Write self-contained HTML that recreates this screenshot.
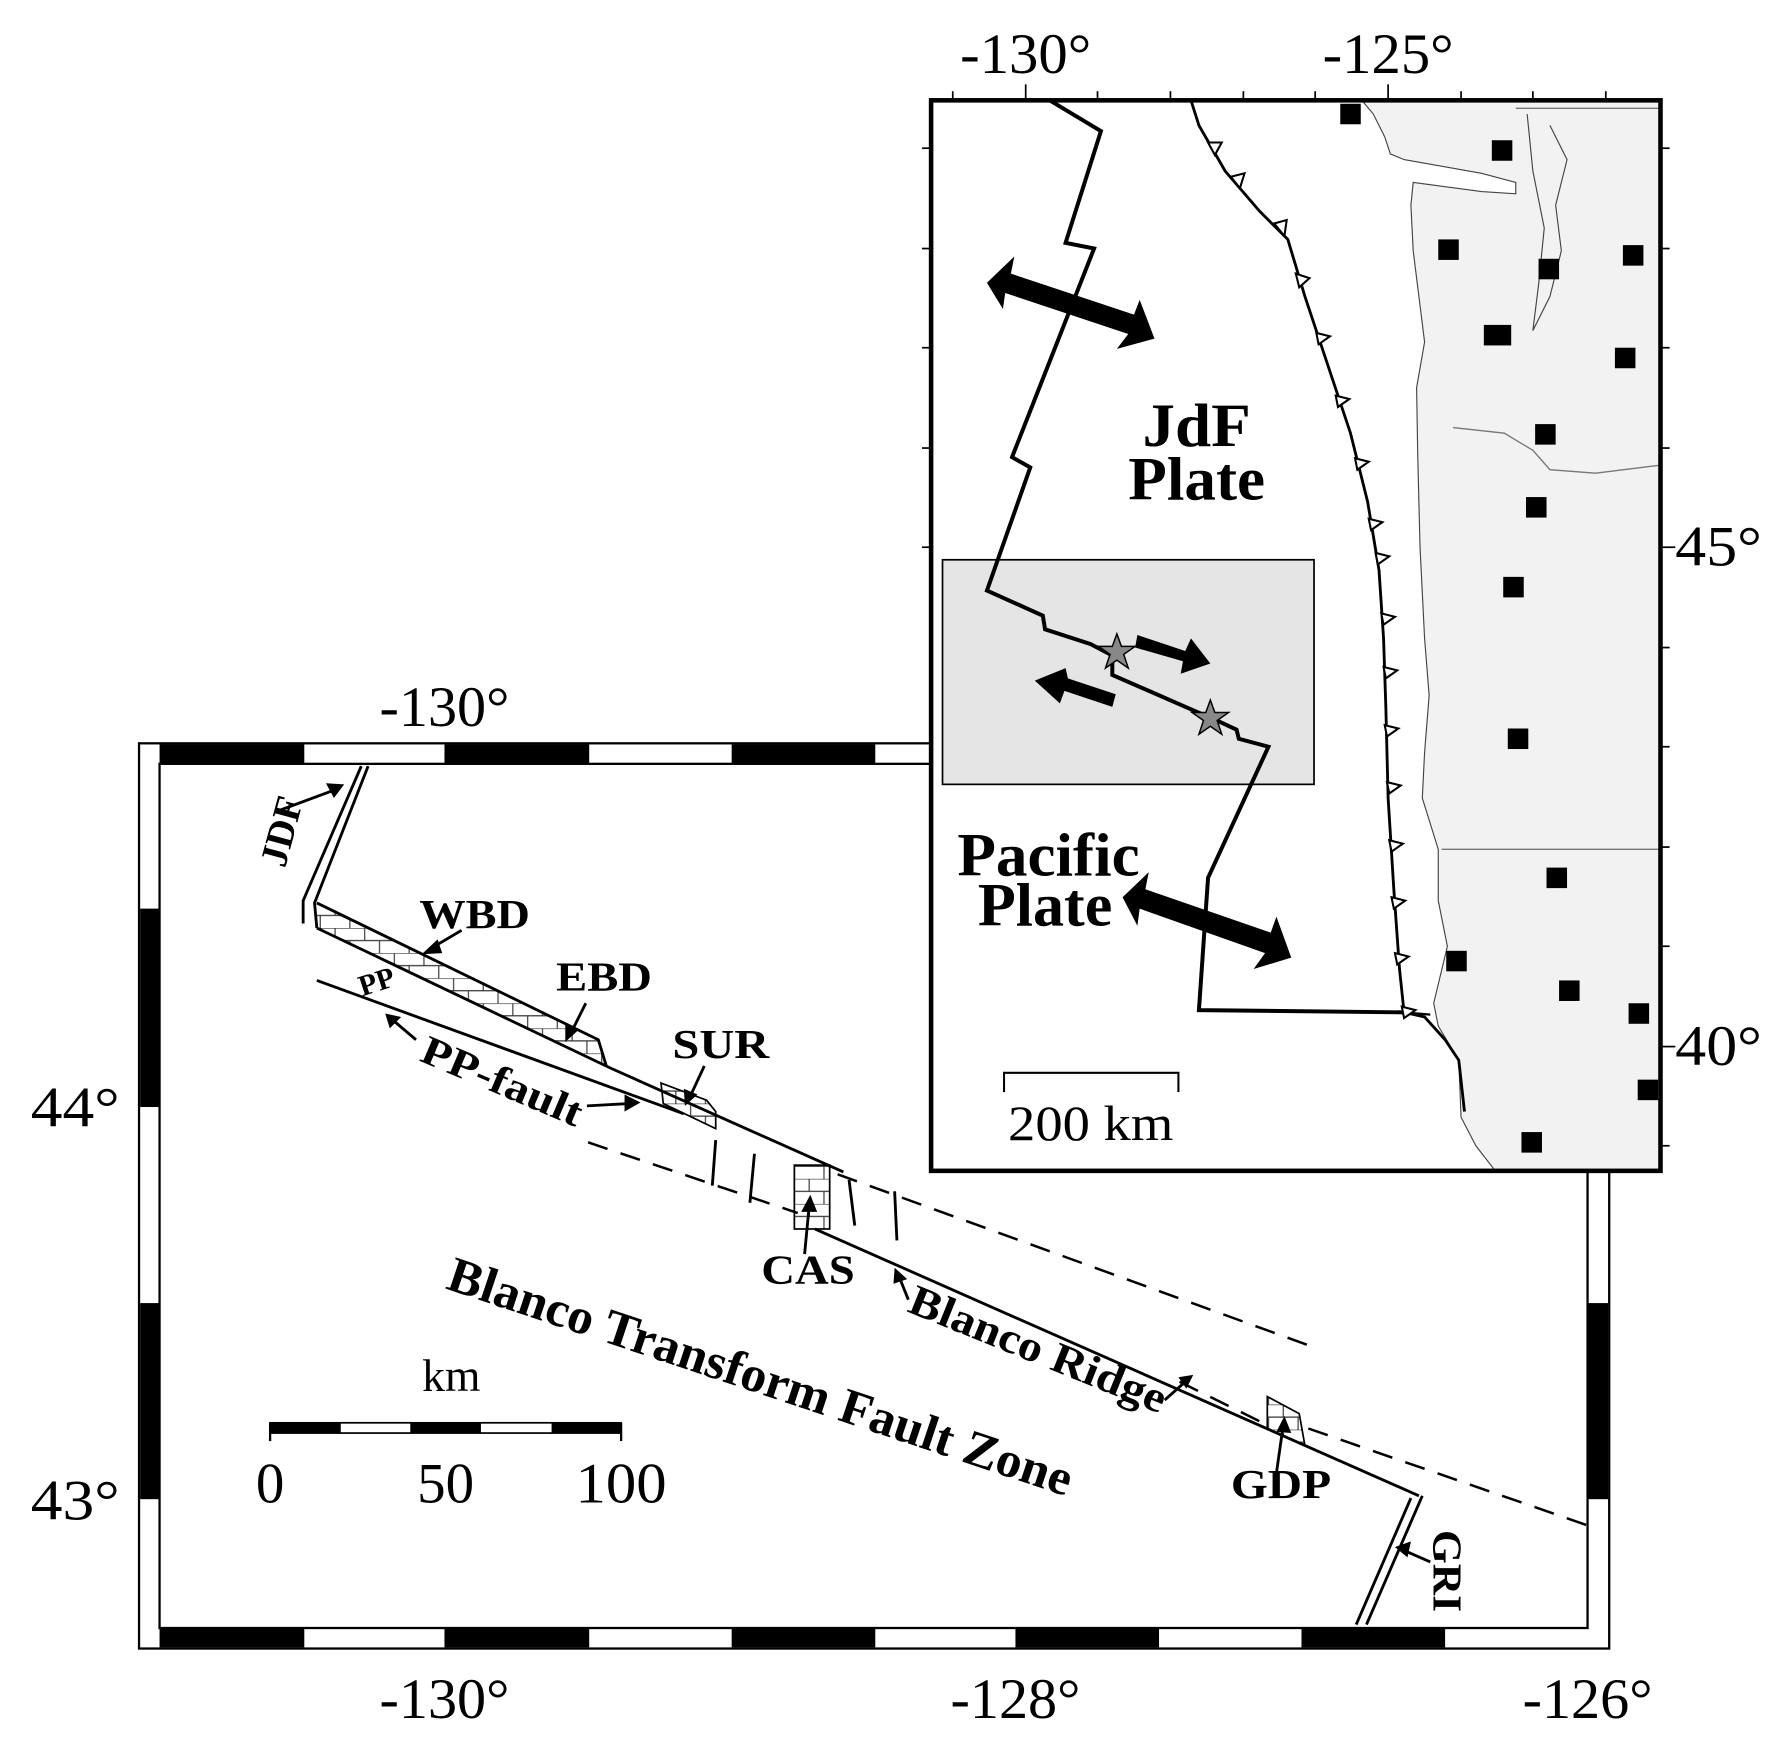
<!DOCTYPE html>
<html><head><meta charset="utf-8"><style>
html,body{margin:0;padding:0;background:#fff;}
svg{display:block;}
text{font-family:"Liberation Serif",serif;}
</style></head><body>
<svg width="1787" height="1750" viewBox="0 0 1568 1535" preserveAspectRatio="none" xmlns="http://www.w3.org/2000/svg">
<defs>
<pattern id="brick" width="26" height="22" patternUnits="userSpaceOnUse">
<rect width="26" height="22" fill="#fff"/>
<path d="M0 0H26M0 11H26M8 0V11M21 11V22" stroke="#333" stroke-width="1" fill="none"/>
</pattern>
</defs>

<rect x="122" y="652" width="1290" height="794" fill="#fff" stroke="#000" stroke-width="2"/>
<rect x="140" y="670" width="1253" height="758" fill="#fff" stroke="#000" stroke-width="2"/>
<g fill="#000">
<rect x="140" y="653" width="127" height="17"/><rect x="390" y="653" width="127" height="17"/><rect x="642" y="653" width="126" height="17"/><rect x="891" y="653" width="126" height="17"/><rect x="1142" y="653" width="126" height="17"/>
<rect x="140" y="1428" width="127" height="17"/><rect x="390" y="1428" width="127" height="17"/><rect x="642" y="1428" width="126" height="17"/><rect x="891" y="1428" width="126" height="17"/><rect x="1142" y="1428" width="126" height="17"/>
<rect x="123" y="797" width="17" height="174"/><rect x="123" y="1143" width="17" height="172"/>
<rect x="1393" y="797" width="18" height="174"/><rect x="1393" y="1143" width="18" height="172"/>
</g>
<g font-size="50" text-anchor="middle">
<text x="390" y="637" textLength="114" lengthAdjust="spacingAndGlyphs">-130°</text>
<text x="390" y="1507" textLength="114" lengthAdjust="spacingAndGlyphs">-130°</text>
<text x="891" y="1507" textLength="114" lengthAdjust="spacingAndGlyphs">-128°</text>
<text x="1393" y="1507" textLength="114" lengthAdjust="spacingAndGlyphs">-126°</text>
<text x="66" y="988" textLength="78" lengthAdjust="spacingAndGlyphs">44°</text>
<text x="66" y="1333" textLength="78" lengthAdjust="spacingAndGlyphs">43°</text>
</g>

<polygon points="278,792 525,912 532,935 536,937 278,814" fill="url(#brick)"/>
<polygon points="580,950 620,965 628,975 628,990 582,968" fill="url(#brick)" stroke="#000" stroke-width="1.5"/>
<rect x="697" y="1022" width="31" height="56" fill="url(#brick)" stroke="#000" stroke-width="1.5"/>
<polygon points="1112,1225 1140,1240 1145,1268 1112,1253" fill="url(#brick)" stroke="#000" stroke-width="1.5"/>
<g stroke="#000" fill="none" stroke-width="2.5">
<polyline points="317,672 266,790 266,810"/>
<polyline points="323,672 276,792 278,814"/>
<polyline points="278,792 525,912 532,935"/>
<polyline points="278,814 536,937 740,1028"/>
<line x1="278" y1="860" x2="600" y2="977"/>
<line x1="715" y1="1078" x2="1245" y2="1312"/>
<line x1="1238" y1="1314" x2="1190" y2="1425"/>
<line x1="1248" y1="1312" x2="1199" y2="1425"/>
<line x1="628" y1="1000" x2="625" y2="1040"/>
<line x1="662" y1="1012" x2="658" y2="1055"/>
<line x1="745" y1="1035" x2="750" y2="1075"/>
<line x1="785" y1="1045" x2="787" y2="1088"/>
</g>
<g stroke="#000" fill="none" stroke-width="2.2" stroke-dasharray="18,12">
<line x1="516" y1="1002" x2="700" y2="1064"/>
<line x1="735" y1="1030" x2="1148" y2="1180"/>
<line x1="1035" y1="1212" x2="1112" y2="1250"/>
<line x1="1148" y1="1253" x2="1393" y2="1338"/>
</g>
<g stroke="#000" stroke-width="2.5" fill="none">
<line x1="242" y1="712" x2="296" y2="692"/>
<line x1="405" y1="816" x2="378" y2="832"/>
<line x1="514" y1="880" x2="500" y2="908"/>
<line x1="365" y1="912" x2="345" y2="895"/>
<line x1="515" y1="970" x2="552" y2="968"/>
<line x1="618" y1="935" x2="605" y2="963"/>
<line x1="706" y1="1100" x2="710" y2="1058"/>
<line x1="797" y1="1140" x2="789" y2="1120"/>
<line x1="1022" y1="1228" x2="1040" y2="1212"/>
<line x1="1120" y1="1292" x2="1126" y2="1250"/>
<line x1="1255" y1="1370" x2="1232" y2="1360"/>
</g>
<g fill="#000">
<polygon points="302,688 286,687 293,700"/>
<polygon points="370,837 384,824 388,836"/>
<polygon points="496,914 496,898 508,903"/>
<polygon points="338,889 352,892 342,902"/>
<polygon points="562,967 548,960 548,975"/>
<polygon points="601,970 600,955 612,960"/>
<polygon points="711,1048 703,1063 717,1063"/>
<polygon points="785,1112 784,1126 796,1122"/>
<polygon points="1047,1206 1034,1208 1041,1218"/>
<polygon points="1127,1242 1120,1256 1133,1257"/>
<polygon points="1224,1357 1238,1352 1235,1366"/>
</g>
<g font-weight="bold" fill="#000">
<text x="0" y="0" font-size="34" textLength="62" lengthAdjust="spacingAndGlyphs" transform="translate(250,762) rotate(-75)">JDF</text>
<text x="368" y="814" font-size="36" textLength="97" lengthAdjust="spacingAndGlyphs">WBD</text>
<text x="488" y="869" font-size="36" textLength="84" lengthAdjust="spacingAndGlyphs">EBD</text>
<text x="0" y="0" font-size="26" transform="translate(318,874) rotate(-18)">PP</text>
<text x="0" y="0" font-size="36" textLength="150" lengthAdjust="spacingAndGlyphs" transform="translate(367,930) rotate(23)">PP-fault</text>
<text x="590" y="928" font-size="36" textLength="85" lengthAdjust="spacingAndGlyphs">SUR</text>
<text x="668" y="1126" font-size="36" textLength="82" lengthAdjust="spacingAndGlyphs">CAS</text>
<text x="0" y="0" font-size="38" textLength="240" lengthAdjust="spacingAndGlyphs" transform="translate(795,1150) rotate(22)">Blanco Ridge</text>
<text x="0" y="0" font-size="44" textLength="575" lengthAdjust="spacingAndGlyphs" transform="translate(390,1130) rotate(18.5)">Blanco Transform Fault Zone</text>
<text x="1080" y="1314" font-size="36" textLength="88" lengthAdjust="spacingAndGlyphs">GDP</text>
<text x="0" y="0" font-size="36" textLength="72" lengthAdjust="spacingAndGlyphs" transform="translate(1258,1342) rotate(90)">GRI</text>
</g>
<text x="396" y="1220" font-size="40" text-anchor="middle">km</text>
<rect x="237" y="1248" width="308" height="9" fill="#fff" stroke="#000" stroke-width="1.5"/>
<g fill="#000"><rect x="237" y="1248" width="62" height="9"/><rect x="360" y="1248" width="62" height="9"/><rect x="484" y="1248" width="61" height="9"/></g>
<line x1="237" y1="1248" x2="237" y2="1264" stroke="#000" stroke-width="2"/>
<line x1="545" y1="1248" x2="545" y2="1264" stroke="#000" stroke-width="2"/>
<g font-size="50" text-anchor="middle"><text x="237" y="1318">0</text><text x="391" y="1318">50</text><text x="545" y="1318" textLength="80" lengthAdjust="spacingAndGlyphs">100</text></g>

<rect x="817" y="88" width="640" height="939" fill="#fff"/>
<path d="M1195,88 L1205,100 L1215,120 L1220,135 L1232,140 L1300,152 L1330,160 L1330,170 L1300,168 L1240,160 L1238,180 L1240,220 L1245,260 L1250,300 L1243,340 L1244,400 L1246,480 L1250,560 L1254,610 L1250,660 L1248,700 L1262,745 L1262,790 L1270,830 L1258,880 L1262,900 L1280,930 L1282,980 L1295,1005 L1312,1027 L1457,1027 L1457,88 Z" fill="#f2f2f2" stroke="#444" stroke-width="1"/>
<path d="M1340,100 L1345,150 L1355,200 L1350,250 L1345,290 L1360,260 L1370,220 L1365,180 L1375,140 L1360,110" fill="none" stroke="#444" stroke-width="1"/>
<g stroke="#777" stroke-width="1.2" fill="none">
<line x1="1330" y1="95" x2="1457" y2="95"/>
<path d="M1275,375 L1320,380 L1345,395 L1360,412 L1400,415 L1457,408"/>
<line x1="1265" y1="745" x2="1457" y2="745"/>
</g>
<rect x="827" y="491" width="326" height="197" fill="#e5e5e5" stroke="#000" stroke-width="1.5"/>
<polyline points="921,88 966,115 935,213 960,218 888,401 904,410 866,518 915,540 917,552 957,565 976,575 976,592 1040,620 1070,633 1085,640 1087,648 1113,655 1060,770 1052,886 1232,888" fill="none" stroke="#000" stroke-width="3.5" stroke-linejoin="miter"/>
<path d="M1045,88 L1052,110 L1075,150 L1105,185 L1130,210 L1145,260 L1165,320 L1185,380 L1200,440 L1210,500 L1214,560 L1216,620 L1218,700 L1223,780 L1228,850 L1232,888 L1250,892 L1268,912 L1280,930 L1285,975" fill="none" stroke="#000" stroke-width="2.5"/>
<line x1="1232" y1="888" x2="1255" y2="890" stroke="#000" stroke-width="2"/>
<g fill="#fff" stroke="#000" stroke-width="1.8">
<polygon points="1060,125 1072,125 1066,136"/>
<polygon points="1080,155 1092,152 1088,165"/>
<polygon points="1118,196 1129,193 1127,207"/>
<polygon points="1137,240 1149,244 1140,252"/>
<polygon points="1155,292 1167,295 1157,302"/>
<polygon points="1172,347 1184,350 1174,357"/>
<polygon points="1189,402 1201,405 1191,412"/>
<polygon points="1201,455 1213,458 1203,465"/>
<polygon points="1207,485 1219,488 1209,495"/>
<polygon points="1212,538 1224,541 1214,548"/>
<polygon points="1214,585 1226,588 1216,595"/>
<polygon points="1215,636 1227,639 1217,646"/>
<polygon points="1217,686 1229,689 1219,696"/>
<polygon points="1219,737 1231,740 1221,747"/>
<polygon points="1221,787 1233,790 1223,797"/>
<polygon points="1224,836 1236,839 1226,846"/>
<polygon points="1230,883 1242,886 1232,893"/>
</g>
<g fill="#000">
<polygon points="866,248 890,225 887,240 995,276 1000,263 1013,297 980,306 990,293 882,257 880,271"/>
<polygon points="985,787 1008,765 1005,780 1115,818 1120,804 1133,840 1100,850 1110,836 1000,797 998,812"/>
<polygon points="998,557 1040,571 1045,560 1062,582 1036,591 1038,580 996,568"/>
<polygon points="976,620 934,606 930,617 908,597 935,586 937,595 979,609"/>
</g>
<g fill="#888" stroke="#000" stroke-width="1.3">
<polygon points="980,556 984,567 996,567 986,574 990,586 980,579 970,586 974,574 964,567 976,567"/>
<polygon points="1062,614 1066,625 1078,625 1068,632 1072,644 1062,637 1052,644 1056,632 1046,625 1058,625"/>
</g>
<g fill="#000">
<rect x="1176" y="91" width="18" height="18"/><rect x="1309" y="123" width="18" height="18"/><rect x="1262" y="210" width="18" height="18"/><rect x="1424" y="215" width="18" height="18"/><rect x="1350" y="227" width="18" height="18"/><rect x="1302" y="285" width="24" height="18"/><rect x="1417" y="305" width="18" height="18"/><rect x="1347" y="372" width="18" height="18"/><rect x="1339" y="436" width="18" height="18"/><rect x="1319" y="506" width="18" height="18"/><rect x="1323" y="639" width="18" height="18"/><rect x="1357" y="761" width="18" height="18"/><rect x="1269" y="834" width="18" height="18"/><rect x="1368" y="860" width="18" height="18"/><rect x="1429" y="880" width="18" height="18"/><rect x="1437" y="947" width="18" height="18"/><rect x="1335" y="993" width="18" height="18"/>
</g>
<rect x="817" y="88" width="640" height="939" fill="none" stroke="#000" stroke-width="4"/>
<g stroke="#000" stroke-width="1.5">
<line x1="836" y1="80" x2="836" y2="88"/><line x1="900" y1="74" x2="900" y2="88"/><line x1="963" y1="80" x2="963" y2="88"/><line x1="1027" y1="80" x2="1027" y2="88"/><line x1="1091" y1="80" x2="1091" y2="88"/><line x1="1154" y1="80" x2="1154" y2="88"/><line x1="1218" y1="74" x2="1218" y2="88"/><line x1="1282" y1="80" x2="1282" y2="88"/><line x1="1345" y1="80" x2="1345" y2="88"/><line x1="1409" y1="80" x2="1409" y2="88"/>
<line x1="1457" y1="130" x2="1465" y2="130"/><line x1="1457" y1="218" x2="1465" y2="218"/><line x1="1457" y1="305" x2="1465" y2="305"/><line x1="1457" y1="393" x2="1465" y2="393"/><line x1="1457" y1="480" x2="1470" y2="480"/><line x1="1457" y1="568" x2="1465" y2="568"/><line x1="1457" y1="655" x2="1465" y2="655"/><line x1="1457" y1="743" x2="1465" y2="743"/><line x1="1457" y1="830" x2="1465" y2="830"/><line x1="1457" y1="918" x2="1470" y2="918"/><line x1="1457" y1="1005" x2="1465" y2="1005"/>
<line x1="809" y1="130" x2="817" y2="130"/><line x1="809" y1="218" x2="817" y2="218"/><line x1="809" y1="305" x2="817" y2="305"/><line x1="809" y1="393" x2="817" y2="393"/><line x1="809" y1="480" x2="817" y2="480"/>
</g>
<g font-size="50" text-anchor="middle"><text x="900" y="64" textLength="115" lengthAdjust="spacingAndGlyphs">-130°</text><text x="1218" y="64" textLength="115" lengthAdjust="spacingAndGlyphs">-125°</text></g>
<g font-size="50"><text x="1470" y="496" textLength="76" lengthAdjust="spacingAndGlyphs">45°</text><text x="1470" y="934" textLength="76" lengthAdjust="spacingAndGlyphs">40°</text></g>
<g font-weight="bold" font-size="54" text-anchor="middle">
<text x="1050" y="391" textLength="95" lengthAdjust="spacingAndGlyphs">JdF</text><text x="1050" y="438" textLength="120" lengthAdjust="spacingAndGlyphs">Plate</text>
<text x="920" y="768" textLength="160" lengthAdjust="spacingAndGlyphs">Pacific</text><text x="917" y="812" textLength="118" lengthAdjust="spacingAndGlyphs">Plate</text>
</g>
<polyline points="881,958 881,941 1034,941 1034,958" fill="none" stroke="#000" stroke-width="1.8"/>
<text x="957" y="1000" font-size="44" text-anchor="middle" textLength="145" lengthAdjust="spacingAndGlyphs">200 km</text>
</svg>
</body></html>
